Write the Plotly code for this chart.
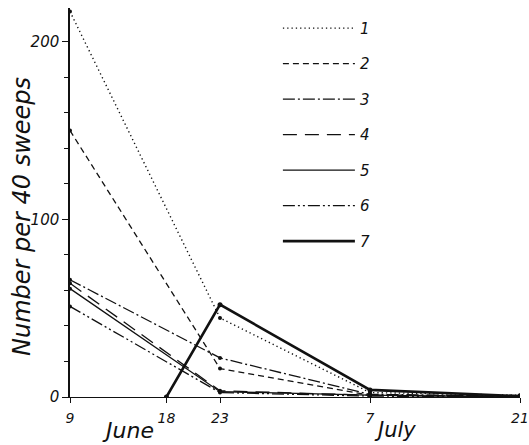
import plotly.graph_objects as go

# ---- data ----
YEAR = "1950"
dates_main = ["06-09", "06-23", "07-07", "07-21"]
dates_7 = ["06-18", "06-23", "07-07", "07-21"]
series_names = ["1", "2", "3", "4", "5", "6", "7"]
s1 = [217, 44.5, 2.5, 1.0]
s2 = [150, 16, 1.0, 0.5]
s3 = [66, 22, 1.5, 0.5]
s4 = [64, 3.5, 1.0, 0.3]
s5 = [61, 3.0, 1.0, 0.0]
s6 = [51, 2.5, 0.5, 0.0]
s7 = [0, 52, 4.0, 0.5]
tick_days = ["06-09", "06-18", "06-23", "07-07", "07-21"]
tick_text = ["9", "18", "23", "7", "21"]
month_labels = ["June", "July"]
y_title = "Number per 40 sweeps"

INK = "#111111"
dashes = ["1.3px,3px", "6px,4px", "12px,3px,2px,3px", "14px,8px", "solid",
          "12px,3px,2px,3px,2px,3px", "solid"]
widths = [1.4, 1.3, 1.3, 1.3, 1.3, 1.3, 2.6]

series = [s1, s2, s3, s4, s5, s6, s7]
xs_main = [f"{YEAR}-{d}" for d in dates_main]
xs_7 = [f"{YEAR}-{d}" for d in dates_7]

fig = go.Figure()
for i, (name, ys) in enumerate(zip(series_names, series)):
    xs = xs_7 if i == 6 else xs_main
    fig.add_trace(go.Scatter(
        x=xs, y=ys, mode="lines+markers", showlegend=False,
        line=dict(color=INK, width=widths[i], dash=dashes[i]),
        marker=dict(color=INK, size=4 if i != 6 else 5),
    ))
# legend entries (lines only)
for i, name in enumerate(series_names):
    fig.add_trace(go.Scatter(
        x=[None], y=[None], mode="lines", name=name, legendgroup=name,
        line=dict(color=INK, width=widths[i], dash=dashes[i]),
    ))

ital = dict(family="DejaVu Sans", color=INK, style="italic")

fig.update_layout(
    width=529, height=445,
    margin=dict(l=70, r=9, t=8, b=48, autoexpand=False),
    paper_bgcolor="white", plot_bgcolor="white",
    showlegend=True,
    legend=dict(x=0.462, y=0.99, xanchor="left", yanchor="top",
                itemwidth=72, tracegroupgap=13, bgcolor="rgba(0,0,0,0)",
                font=dict(size=15, **ital)),
    xaxis=dict(type="date", range=[f"{YEAR}-06-09", f"{YEAR}-07-21"],
               automargin=False,
               tickvals=[f"{YEAR}-{d}" for d in tick_days], ticktext=tick_text,
               showgrid=False, zeroline=False, showline=True, linecolor=INK,
               linewidth=1.3, ticks="outside", ticklen=5, tickcolor=INK,
               ticklabelstandoff=3,
               tickfont=dict(size=14, **ital)),
    yaxis=dict(range=[0, 219], tickvals=[0, 100, 200], showgrid=False,
               automargin=False,
               zeroline=False, showline=True, linecolor=INK, linewidth=1.5,
               ticks="outside", ticklen=6, tickcolor=INK,
               tickfont=dict(size=15, **ital),
               minor=dict(dtick=20, ticks="outside", ticklen=4, tickcolor=INK)),
)

# y-axis title placed as an annotation (paper coordinates)
fig.add_annotation(x=(22 - 70) / 450, xref="paper", y=(397 - 217) / 389, yref="paper",
                   xanchor="center", yanchor="middle", text=y_title, textangle=-90,
                   showarrow=False, font=dict(size=24, **ital))

fig.add_annotation(x=f"{YEAR}-06-14", y=0, yref="y", yshift=-33, xshift=4,
                   text=month_labels[0], showarrow=False, font=dict(size=22, **ital))
fig.add_annotation(x=f"{YEAR}-07-09", y=0, yref="y", yshift=-33, xshift=4,
                   text=month_labels[1], showarrow=False, font=dict(size=21, **ital))

fig.write_html("out.html")
